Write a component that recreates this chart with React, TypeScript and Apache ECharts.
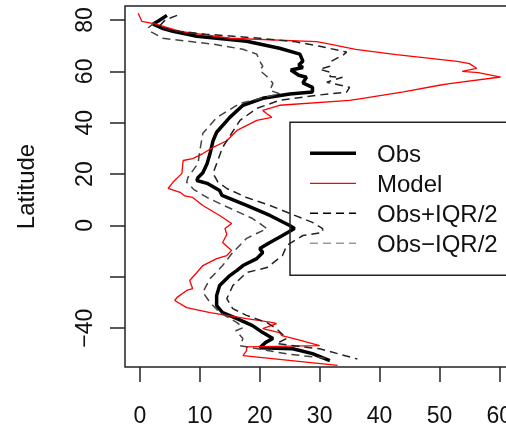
import { useEffect, useRef } from "react";
import * as echarts from "echarts";

const xTicks = [0, 10, 20, 30, 40, 50, 60];
const yTicks = [-40, -20, 0, 20, 40, 60, 80];
const yTickLabels: Record<number, string> = { [-40]: "−40", [-20]: "", 0: "0", 20: "20", 40: "40", 60: "60", 80: "80" };
const yAxisName = "Latitude";
const seriesNames = ["Obs", "Model", "Obs+IQR/2", "Obs−IQR/2"];

const obsLat = [81.8, 79.5, 78.4, 76.8, 75.6, 73.7, 71.7, 69.0, 66.7, 64.0, 62.5, 61.5, 60.5, 58.5, 57.7, 55.5, 53.8, 52.0, 51.2, 49.5, 46.8, 42.1, 36.3, 33.0, 28.0, 24.0, 20.5, 18.7, 17.5, 16.4, 13.6, 11.7, 7.8, 3.9, 0.0, -1.2, -3.9, -6.6, -9.0, -10.5, -12.9, -15.6, -17.5, -19.5, -23.4, -27.3, -31.2, -33.9, -36.3, -39.0, -41.7, -44.0, -45.5, -47.6, -48.0, -49.9, -52.6];
const obsVal = [4.5, 3.0, 2.2, 3.7, 5.5, 9.5, 17.8, 23.3, 26.7, 27.2, 26.5, 27.2, 25.2, 26.5, 27.8, 27.2, 28.8, 28.8, 25.0, 20.5, 17.2, 15.0, 12.8, 12.2, 11.7, 11.2, 10.5, 9.7, 9.5, 11.2, 13.3, 13.7, 17.8, 21.7, 25.0, 25.8, 23.8, 21.7, 20.0, 20.5, 19.5, 17.2, 16.2, 15.0, 13.3, 12.8, 12.8, 13.8, 16.2, 18.8, 20.5, 22.2, 21.0, 20.0, 25.5, 28.8, 31.7];

const modelLat = [82.6, 79.5, 78.5, 75.6, 72.9, 71.6, 70.6, 68.6, 66.5, 63.9, 63.0, 61.2, 60.0, 59.5, 57.8, 55.2, 54.6, 52.0, 49.5, 48.7, 46.8, 44.8, 43.5, 42.1, 40.9, 37.0, 33.0, 30.4, 28.0, 26.0, 25.3, 20.3, 16.8, 14.4, 12.9, 11.5, 10.9, 7.8, 3.9, 0.8, -1.2, -3.5, -6.6, -9.7, -11.7, -12.9, -15.6, -18.3, -21.4, -24.6, -25.3, -28.0, -29.2, -32.0, -33.9, -35.0, -36.3, -37.8, -38.2, -40.2, -41.7, -42.9, -44.5, -46.8, -47.3, -48.7, -50.7, -54.5];
const modelVal = [-0.3, 0.3, 2.5, 6.7, 15.0, 29.5, 31.7, 36.0, 42.8, 53.0, 55.0, 56.2, 53.8, 56.5, 60.2, 51.7, 50.0, 44.0, 37.2, 35.0, 23.3, 20.5, 21.2, 22.0, 19.5, 16.2, 14.5, 12.2, 10.5, 8.8, 7.2, 7.0, 5.5, 4.7, 6.7, 7.5, 8.8, 10.5, 13.3, 15.3, 14.2, 14.5, 13.8, 15.3, 14.5, 12.8, 10.5, 9.5, 8.3, 8.8, 7.8, 6.2, 5.8, 7.8, 11.7, 14.5, 17.8, 22.2, 22.8, 20.5, 23.3, 23.7, 26.5, 30.0, 17.8, 17.8, 17.2, 33.0];

const obsPlusLat = [81.8, 80.0, 77.5, 76.0, 74.5, 72.9, 71.5, 69.8, 67.5, 66.5, 64.0, 62.0, 60.8, 59.5, 58.0, 57.7, 55.8, 53.8, 51.9, 50.7, 48.7, 45.6, 40.9, 35.9, 30.4, 25.3, 20.3, 17.0, 14.4, 10.9, 7.8, 4.7, 1.2, -1.2, -2.7, -3.9, -7.8, -11.7, -16.4, -18.3, -23.4, -28.5, -32.4, -35.0, -37.8, -40.2, -44.0, -46.0, -48.0, -52.0];
const obsPlusVal = [6.2, 4.2, 3.2, 5.0, 11.0, 20.0, 26.0, 30.0, 34.5, 34.0, 32.0, 31.7, 30.0, 32.0, 31.7, 33.8, 31.2, 35.0, 34.5, 29.5, 23.3, 19.5, 16.7, 15.3, 13.8, 13.0, 12.2, 13.0, 14.5, 17.8, 21.7, 25.0, 28.8, 30.5, 30.5, 27.2, 24.5, 23.8, 21.2, 17.8, 15.5, 14.5, 15.5, 17.8, 21.2, 22.8, 24.5, 22.8, 30.0, 36.3];

const obsMinusLat = [79.0, 77.0, 75.6, 72.9, 70.6, 68.6, 66.7, 64.0, 62.0, 60.4, 58.0, 55.4, 52.6, 51.3, 47.5, 42.0, 35.9, 29.2, 24.2, 18.7, 16.8, 14.0, 10.9, 7.8, 2.7, -1.2, -5.0, -10.5, -15.6, -20.7, -26.0, -30.0, -33.9, -37.8, -39.8, -41.0, -44.0, -46.8, -50.0, -51.9];
const obsMinusVal = [2.4, 1.4, 1.7, 3.8, 12.2, 17.2, 19.5, 20.0, 20.5, 20.0, 21.2, 22.2, 21.7, 23.3, 16.7, 12.8, 10.5, 10.0, 9.7, 8.0, 7.8, 9.0, 11.2, 14.0, 18.8, 21.2, 17.8, 15.5, 13.8, 11.7, 10.5, 11.7, 13.3, 16.2, 17.2, 16.0, 17.2, 16.7, 24.5, 31.7];

const FONT = "'Liberation Sans', Arial, Helvetica, sans-serif";

function pairs(lat: number[], val: number[]) {
  return lat.map((l, i) => [val[i], l]);
}

export default function App() {
  const ref = useRef<HTMLDivElement>(null);
  useEffect(() => {
    document.body.style.margin = "0";
    const chart = echarts.init(ref.current!, null, { renderer: "svg" });
    const legendRows = [153.3, 183.3, 213.3, 243.3];
    const legendStyles = [
      { stroke: "#000", lineWidth: 3.5 },
      { stroke: "#ff0000", lineWidth: 1.3 },
      { stroke: "#000", lineWidth: 1.4, lineDash: [8, 5] },
      { stroke: "#999", lineWidth: 1.4, lineDash: [8, 5] },
    ];
    const graphic: any[] = [
      {
        type: "rect",
        shape: { x: 290, y: 122.3, width: 260, height: 153 },
        style: { fill: "none", stroke: "#222", lineWidth: 1.5 },
        z: 100,
      },
    ];
    seriesNames.forEach((name, i) => {
      graphic.push({
        type: "line",
        shape: { x1: 310, y1: legendRows[i], x2: 356, y2: legendRows[i] },
        style: legendStyles[i],
        z: 100,
      });
      graphic.push({
        type: "text",
        x: 377,
        y: legendRows[i],
        style: { text: name, fontSize: 24, fontFamily: FONT, fill: "#111", align: "left", verticalAlign: "middle" },
        z: 100,
      });
    });
    chart.setOption({
      animation: false,
      grid: { left: 125, top: 6, bottom: 61, right: 0.7, show: true, borderColor: "#222", borderWidth: 1.5, containLabel: false },
      xAxis: {
        type: "value",
        min: -2.5,
        max: 63,
        axisLine: { show: false, onZero: false },
        splitLine: { show: false },
        axisTick: { show: true, customValues: xTicks, length: 15, lineStyle: { color: "#222", width: 1.5 } },
        axisLabel: { customValues: xTicks, margin: 36, fontSize: 23, fontFamily: FONT, color: "#111" },
      },
      yAxis: {
        type: "value",
        min: -55.1,
        max: 85.45,
        axisLine: { show: false, onZero: false },
        splitLine: { show: false },
        axisTick: { show: true, customValues: yTicks, length: 15, lineStyle: { color: "#222", width: 1.5 } },
        axisLabel: {
          customValues: yTicks,
          rotate: 90,
          margin: 30,
          fontSize: 23,
          fontFamily: FONT,
          color: "#111",
          formatter: (v: number) => yTickLabels[Math.round(v)] ?? "",
        },
        name: yAxisName,
        nameLocation: "middle",
        nameRotate: 90,
        nameGap: 88,
        nameTextStyle: { fontSize: 24, fontFamily: FONT, color: "#111" },
      },
      series: [
        {
          name: seriesNames[0],
          type: "line",
          data: pairs(obsLat, obsVal),
          symbol: "none",
          lineStyle: { color: "#000", width: 3.5 },
          z: 2,
        },
        {
          name: seriesNames[1],
          type: "line",
          data: pairs(modelLat, modelVal),
          symbol: "none",
          lineStyle: { color: "#ff0000", width: 1.3 },
          z: 3,
        },
        {
          name: seriesNames[2],
          type: "line",
          data: pairs(obsPlusLat, obsPlusVal),
          symbol: "none",
          lineStyle: { color: "#222", width: 1.5, type: [8, 5] },
          z: 4,
        },
        {
          name: seriesNames[3],
          type: "line",
          data: pairs(obsMinusLat, obsMinusVal),
          symbol: "none",
          lineStyle: { color: "#444", width: 1.5, type: [8, 5] },
          z: 4,
        },
      ],
      graphic,
    });
    return () => chart.dispose();
  }, []);
  return (
    <div style={{ position: "fixed", left: 0, top: 0, width: 506, height: 428, overflow: "hidden" }}>
      <div ref={ref} style={{ width: 518, height: 428 }} />
    </div>
  );
}
